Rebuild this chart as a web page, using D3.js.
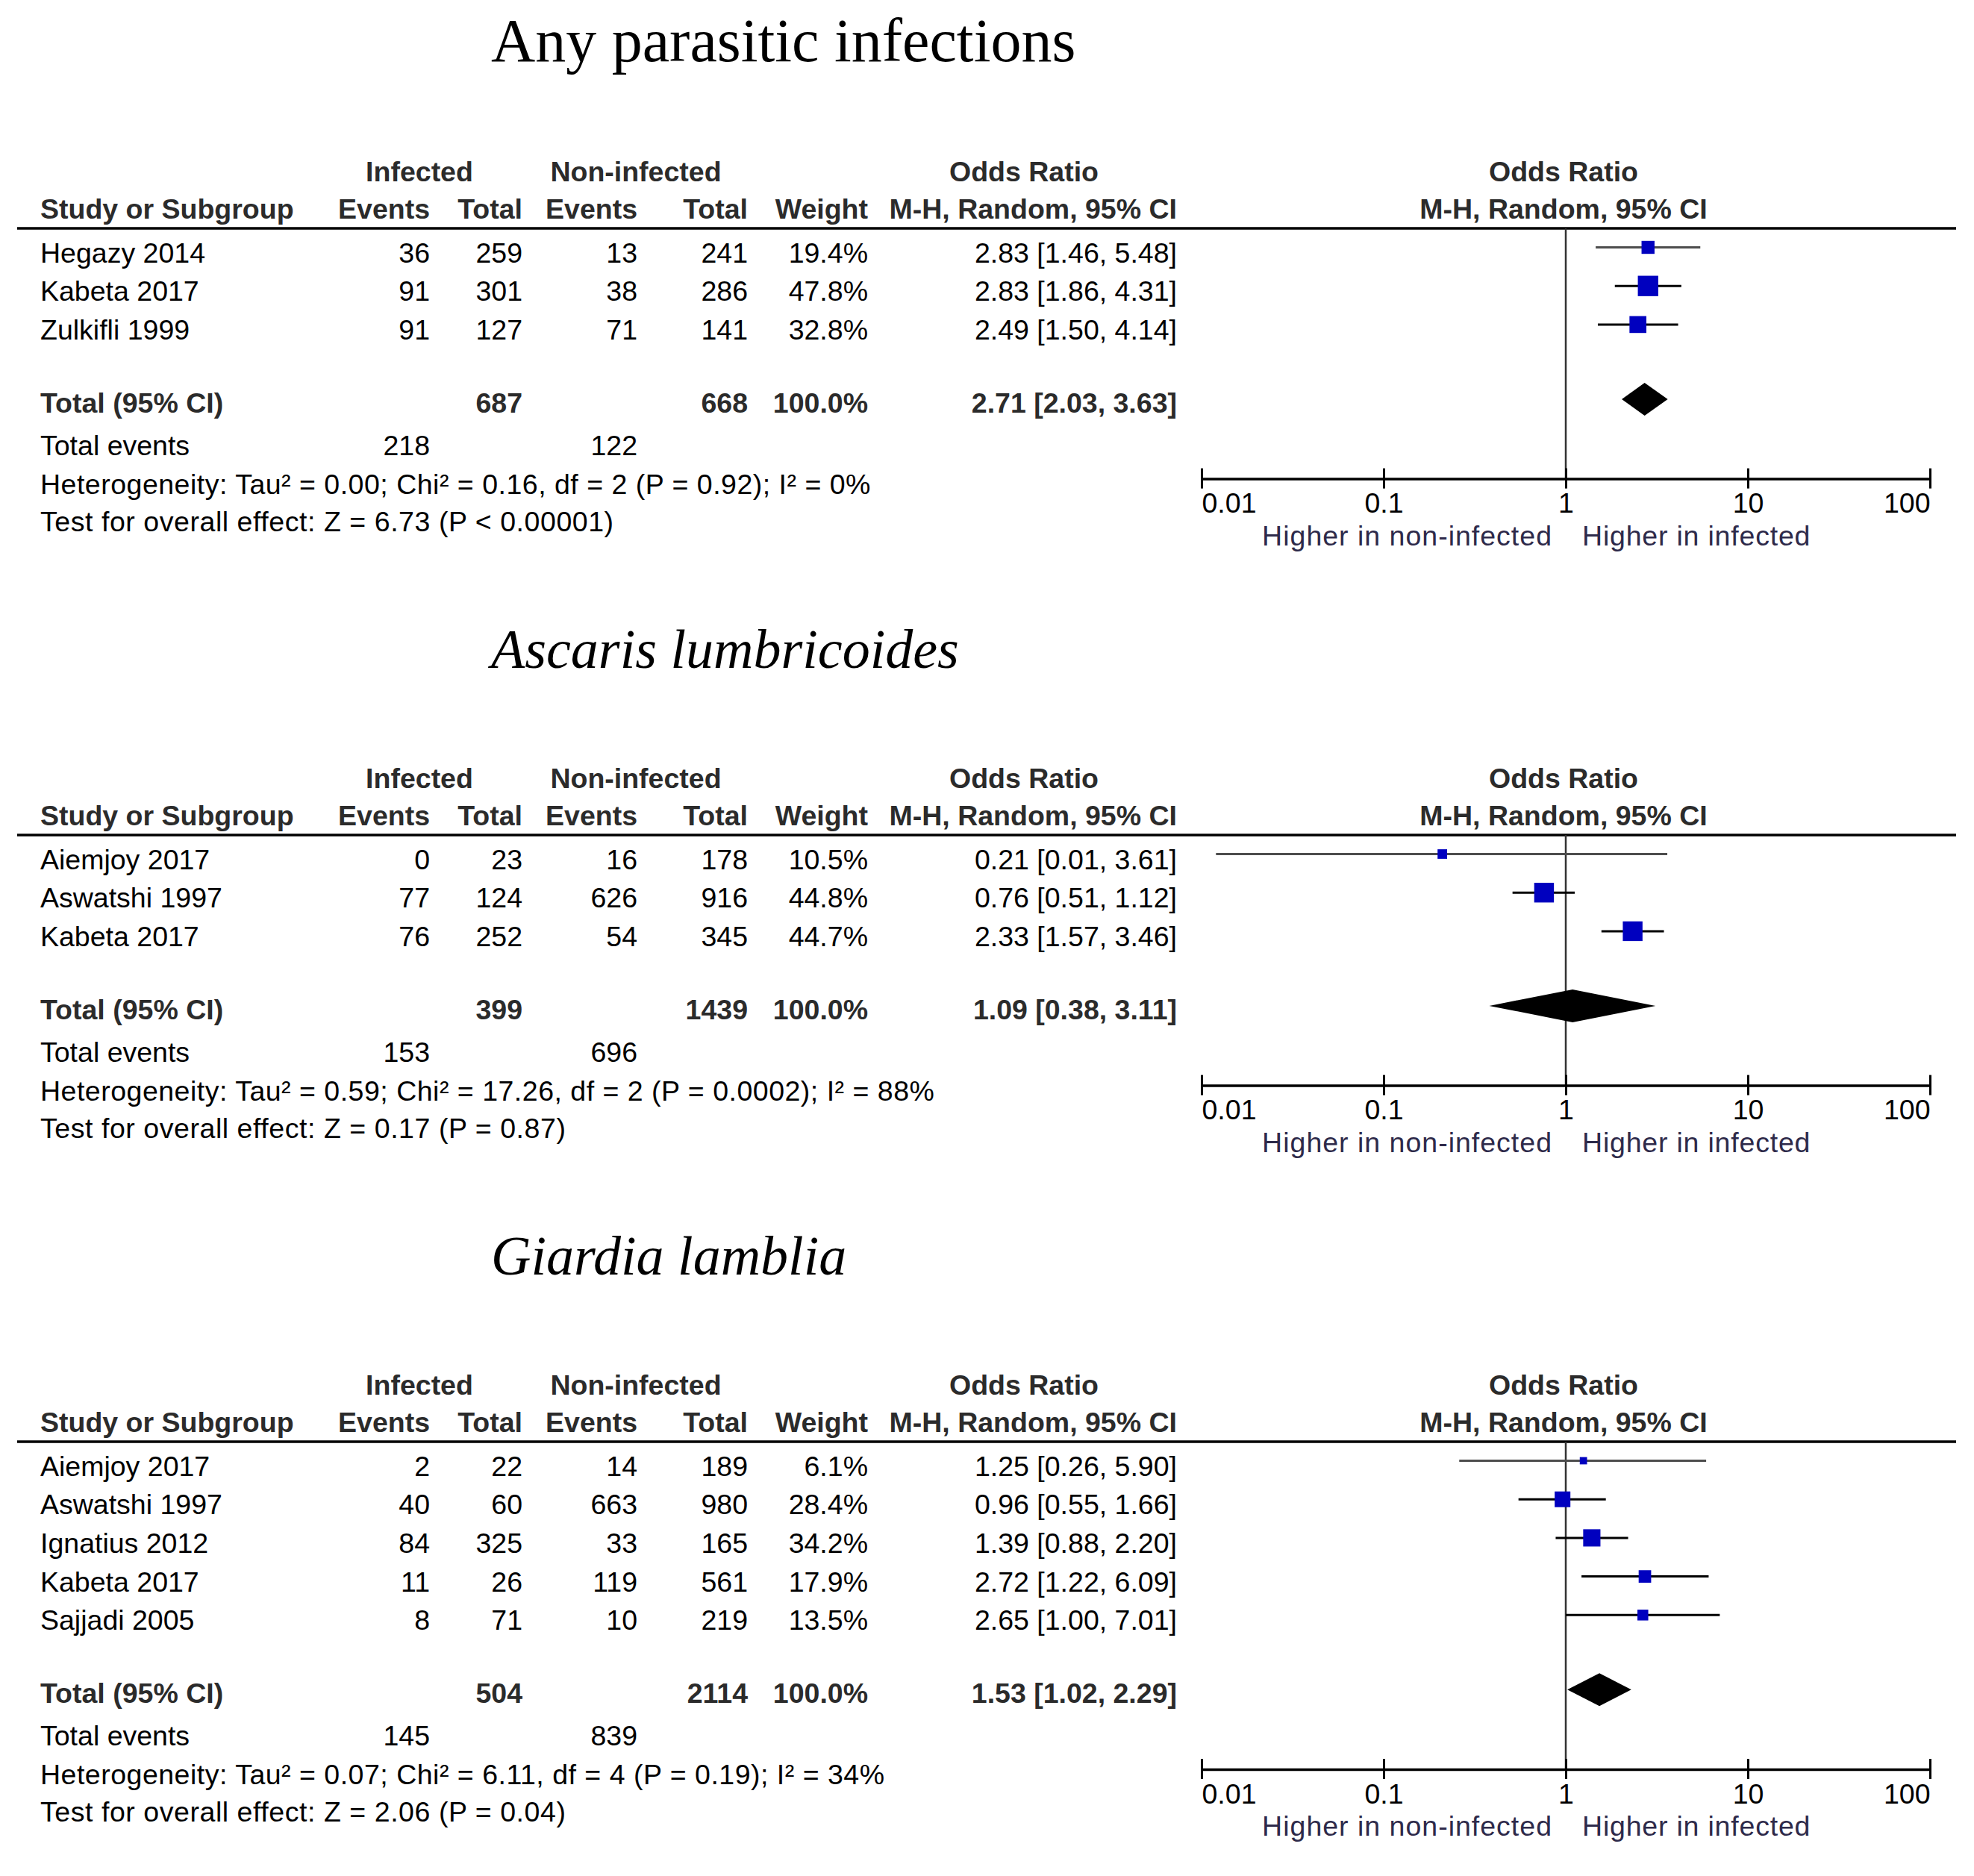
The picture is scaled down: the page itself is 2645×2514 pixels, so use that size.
<!DOCTYPE html>
<html>
<head>
<meta charset="utf-8">
<script src="https://cdn.jsdelivr.net/npm/d3@7/dist/d3.min.js"></script>
<style>
  body { margin: 0; background: #fff; }
  svg { display: block; }
</style>
</head>
<body>
<div id="chart"></div>
<script>
// one entry per sub-plot
const titles = ["Any parasitic infections", "Ascaris lumbricoides", "Giardia lamblia"];
const titleItalic = [false, true, true];

const studies = [
  ["Hegazy 2014", "Kabeta 2017", "Zulkifli 1999"],
  ["Aiemjoy 2017", "Aswatshi 1997", "Kabeta 2017"],
  ["Aiemjoy 2017", "Aswatshi 1997", "Ignatius 2012", "Kabeta 2017", "Sajjadi 2005"]
];
const infEvents = [[36, 91, 91], [0, 77, 76], [2, 40, 84, 11, 8]];
const infTotal = [[259, 301, 127], [23, 124, 252], [22, 60, 325, 26, 71]];
const nonEvents = [[13, 38, 71], [16, 626, 54], [14, 663, 33, 119, 10]];
const nonTotal = [[241, 286, 141], [178, 916, 345], [189, 980, 165, 561, 219]];
const weights = [[19.4, 47.8, 32.8], [10.5, 44.8, 44.7], [6.1, 28.4, 34.2, 17.9, 13.5]];
const oddsRatio = [[2.83, 2.83, 2.49], [0.21, 0.76, 2.33], [1.25, 0.96, 1.39, 2.72, 2.65]];
const ciLow = [[1.46, 1.86, 1.50], [0.012, 0.51, 1.57], [0.26, 0.55, 0.88, 1.22, 1.00]];
const ciHigh = [[5.48, 4.31, 4.14], [3.61, 1.12, 3.46], [5.90, 1.66, 2.20, 6.09, 7.01]];

const totalInf = [687, 399, 504];
const totalNon = [668, 1439, 2114];
const eventsInf = [218, 153, 145];
const eventsNon = [122, 696, 839];
const pooledOR = [2.71, 1.09, 1.53];
const pooledLow = [2.03, 0.38, 1.02];
const pooledHigh = [3.63, 3.11, 2.29];
const heterogeneity = [
  "Heterogeneity: Tau\u00b2 = 0.00; Chi\u00b2 = 0.16, df = 2 (P = 0.92); I\u00b2 = 0%",
  "Heterogeneity: Tau\u00b2 = 0.59; Chi\u00b2 = 17.26, df = 2 (P = 0.0002); I\u00b2 = 88%",
  "Heterogeneity: Tau\u00b2 = 0.07; Chi\u00b2 = 6.11, df = 4 (P = 0.19); I\u00b2 = 34%"
];
const overallEffect = [
  "Test for overall effect: Z = 6.73 (P < 0.00001)",
  "Test for overall effect: Z = 0.17 (P = 0.87)",
  "Test for overall effect: Z = 2.06 (P = 0.04)"
];
const axisTicks = [0.01, 0.1, 1, 10, 100];
const favourLeft = "Higher in non-infected";
const favourRight = "Higher in infected";

const width = 2645;
const height = 2514;
const panelGap = 813;
const sans = "'Liberation Sans', Arial, sans-serif";
const serif = "'Liberation Serif', 'Times New Roman', serif";

const svg = d3.select('#chart').append('svg')
  .attr('width', width)
  .attr('height', height)
  .attr('viewBox', `0 0 ${width} ${height}`);

const x = d3.scaleLog().domain([0.01, 100]).range([1610, 2586]);
const boxSize = d3.scaleSqrt().domain([0, 100]).range([0, 39.5]);
const fmt = d3.format('.2f');
const ciText = (or, lo, hi) => `${fmt(or)} [${fmt(lo)}, ${fmt(hi)}]`;

function txt(g, tx, ty, s, anchor, bold, fill, spacing) {
  return g.append('text')
    .attr('x', tx).attr('y', ty)
    .attr('text-anchor', anchor || 'start')
    .attr('font-family', sans)
    .attr('font-size', 37.5)
    .attr('font-weight', bold ? 'bold' : 'normal')
    .attr('letter-spacing', spacing || 0)
    .attr('fill', fill || '#000')
    .text(s);
}

// column anchors
const colName = 54, colIE = 576, colIT = 700, colNE = 854, colNT = 1002, colW = 1163, colOR = 1577;
const headColor = '#2b2b2b';

titles.forEach((title, p) => {
  const g = svg.append('g').attr('transform', `translate(0,${p * panelGap})`);
  const n = studies[p].length;

  g.append('text')
    .attr('x', 658).attr('y', 82)
    .attr('font-family', serif)
    .attr('font-size', titleItalic[p] ? 74 : 82)
    .attr('font-style', titleItalic[p] ? 'italic' : 'normal')
    .attr('fill', '#000')
    .text(title);

  // header
  txt(g, 562, 242.7, 'Infected', 'middle', true, headColor);
  txt(g, 852, 242.7, 'Non-infected', 'middle', true, headColor);
  txt(g, 1372, 242.7, 'Odds Ratio', 'middle', true, headColor);
  txt(g, 2095, 242.7, 'Odds Ratio', 'middle', true, headColor);
  const h2 = 293;
  txt(g, colName, h2, 'Study or Subgroup', 'start', true, headColor);
  txt(g, colIE, h2, 'Events', 'end', true, headColor);
  txt(g, colIT, h2, 'Total', 'end', true, headColor);
  txt(g, colNE, h2, 'Events', 'end', true, headColor);
  txt(g, colNT, h2, 'Total', 'end', true, headColor);
  txt(g, colW, h2, 'Weight', 'end', true, headColor);
  txt(g, colOR, h2, 'M-H, Random, 95% CI', 'end', true, headColor);
  txt(g, 2095, h2, 'M-H, Random, 95% CI', 'middle', true, headColor);

  g.append('line')
    .attr('x1', 23).attr('x2', 2621)
    .attr('y1', 306).attr('y2', 306)
    .attr('stroke', '#000').attr('stroke-width', 3.5);

  const rowY = i => 351.5 + i * 51.7;
  const totalY = rowY(n - 1) + 98;
  const axisY = totalY + 88.7;

  // line of no effect
  g.append('line')
    .attr('x1', x(1)).attr('x2', x(1))
    .attr('y1', 306).attr('y2', axisY)
    .attr('stroke', '#333').attr('stroke-width', 2.5);

  // study rows
  studies[p].forEach((name, i) => {
    const y = rowY(i);
    txt(g, colName, y, name);
    txt(g, colIE, y, infEvents[p][i], 'end');
    txt(g, colIT, y, infTotal[p][i], 'end');
    txt(g, colNE, y, nonEvents[p][i], 'end');
    txt(g, colNT, y, nonTotal[p][i], 'end');
    txt(g, colW, y, weights[p][i].toFixed(1) + '%', 'end');
    txt(g, colOR, y, ciText(oddsRatio[p][i], ciLow[p][i], ciHigh[p][i]), 'end');

    const my = y - 20;
    g.append('line')
      .attr('x1', x(ciLow[p][i])).attr('x2', x(ciHigh[p][i]))
      .attr('y1', my).attr('y2', my)
      .attr('stroke', i === 0 ? '#4d4d4d' : '#000')
      .attr('stroke-width', 3);
    const s = boxSize(weights[p][i]);
    g.append('rect')
      .attr('x', x(oddsRatio[p][i]) - s / 2)
      .attr('y', my - s / 2)
      .attr('width', s).attr('height', s)
      .attr('fill', '#0000bf');
  });

  // pooled row
  txt(g, colName, totalY, 'Total (95% CI)', 'start', true, headColor);
  txt(g, colIT, totalY, totalInf[p], 'end', true, headColor);
  txt(g, colNT, totalY, totalNon[p], 'end', true, headColor);
  txt(g, colW, totalY, '100.0%', 'end', true, headColor);
  txt(g, colOR, totalY, ciText(pooledOR[p], pooledLow[p], pooledHigh[p]), 'end', true, headColor);

  const dy = totalY - 18;
  const dh = 22;
  g.append('path')
    .attr('d', `M${x(pooledLow[p])},${dy}L${x(pooledOR[p])},${dy - dh}L${x(pooledHigh[p])},${dy}L${x(pooledOR[p])},${dy + dh}Z`)
    .attr('fill', '#000');

  txt(g, colName, totalY + 56.6, 'Total events');
  txt(g, colIE, totalY + 56.6, eventsInf[p], 'end');
  txt(g, colNE, totalY + 56.6, eventsNon[p], 'end');
  txt(g, colName, totalY + 109, heterogeneity[p], 'start', false, '#000', 0.5);
  txt(g, colName, totalY + 159, overallEffect[p], 'start', false, '#000', 0.55);

  // axis
  const axis = d3.axisBottom(x)
    .tickValues(axisTicks)
    .tickFormat(d => String(d))
    .tickSizeInner(13)
    .tickSizeOuter(0);
  const ag = g.append('g')
    .attr('transform', `translate(0,${axisY})`)
    .call(axis);
  ag.select('.domain').attr('stroke', '#000').attr('stroke-width', 3.5);
  ag.selectAll('.tick line')
    .attr('y1', -14).attr('y2', 13)
    .attr('stroke', '#000').attr('stroke-width', 3);
  ag.selectAll('.tick text')
    .attr('y', 45.6).attr('dy', null)
    .attr('font-family', sans)
    .attr('font-size', 37.5)
    .attr('fill', '#000')
    .attr('text-anchor', (d, i) => i === 0 ? 'start' : (i === axisTicks.length - 1 ? 'end' : 'middle'));

  txt(g, x(1) - 18, axisY + 89, favourLeft, 'end', false, '#2e2a4a', 1);
  txt(g, x(1) + 22, axisY + 89, favourRight, 'start', false, '#2e2a4a', 0.8);
});
</script>
</body>
</html>
